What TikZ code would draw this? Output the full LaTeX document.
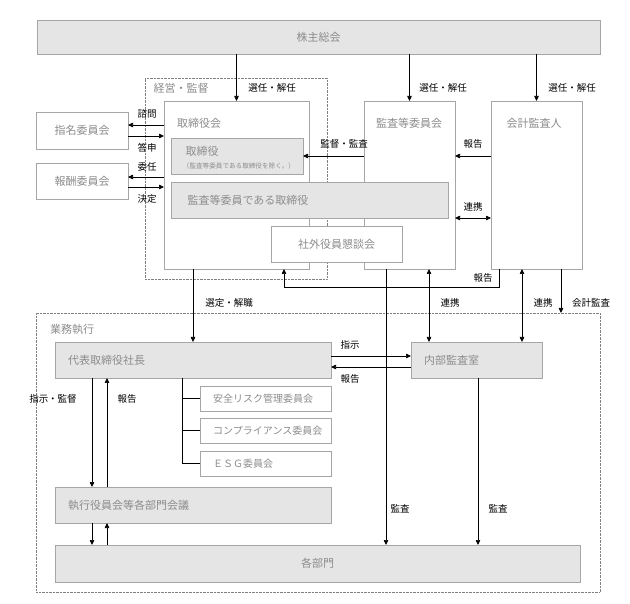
\documentclass[tikz,border=0pt]{standalone}
\usepackage{fontspec}
\setmainfont{Noto Sans CJK JP}
\usetikzlibrary{positioning, arrows.meta, calc}

\begin{document}
\begin{tikzpicture}[x=1pt, y=-1pt]
    % Define node styles
    \tikzstyle{graybox} = [draw=gray!70, fill=gray!20, anchor=north west, inner sep=0pt, outer sep=0pt, text=gray!90, font=\fontsize{11}{13}\selectfont]
    \tikzstyle{whitebox} = [draw=gray!70, fill=white, anchor=north west, inner sep=0pt, outer sep=0pt, text=gray!90, font=\fontsize{11}{13}\selectfont]
    \tikzstyle{dotbox} = [draw=gray, densely dotted, anchor=north west, inner sep=0pt, outer sep=0pt]
    \tikzstyle{boxtext} = [text=gray!90, font=\fontsize{11}{13}\selectfont, inner sep=0pt]
    \tikzstyle{lbl} = [font=\fontsize{9.5}{11}\selectfont, inner sep=0pt]
    \tikzstyle{arr} = [-{Triangle[length=5pt,width=4.5pt]}, line width=0.7pt]
    \tikzstyle{darr} = [{Triangle[length=5pt,width=4.5pt]}-{Triangle[length=5pt,width=4.5pt]}, line width=0.7pt]

    \useasboundingbox (0,0) rectangle (630,604);

    % Shareholders meeting
    \node[graybox, minimum width=563pt, minimum height=34pt] (soukai) at (37,20) {株主総会};

    % Management and supervision (dotted group)
    \node[dotbox, minimum width=182pt, minimum height=201pt] (keiei) at (145,78) {};
    \node[boxtext] (keieilbl) at (181,88) {経営・監督};

    % Board, audit committee, accounting auditor
    \node[whitebox, minimum width=145pt, minimum height=168pt] (torishimari) at (164,101) {};
    \node[boxtext, anchor=west] (torishimarilbl) at (177,123) {取締役会};
    \node[whitebox, minimum width=91pt, minimum height=168pt] (kansa) at (364,101) {};
    \node[boxtext] (kansalbl) at (409,123) {監査等委員会};
    \node[whitebox, minimum width=91pt, minimum height=168pt] (kaikei) at (491,101) {};
    \node[boxtext] (kaikeilbl) at (534,123) {会計監査人};

    % Directors inside the board
    \node[graybox, minimum width=132pt, minimum height=36pt] (torishimariyaku) at (171,138) {};
    \node[boxtext] (yakulbl) at (202,151) {取締役};
    \node[text=gray!90, font=\fontsize{6.6}{8}\selectfont, inner sep=0pt] (yakunote) at (239,166) {（監査等委員である取締役を除く。）};
    \node[graybox, minimum width=277pt, minimum height=36pt] (kansayaku) at (171,182) {};
    \node[boxtext] (kansayakulbl) at (248,200) {監査等委員である取締役};
    \node[whitebox, minimum width=131pt, minimum height=36pt] (shagai) at (271,226) {社外役員懇談会};

    % Committees on the left
    \node[whitebox, minimum width=92pt, minimum height=37pt] (shimei) at (36,112) {指名委員会};
    \node[whitebox, minimum width=92pt, minimum height=36pt] (houshu) at (36,163) {報酬委員会};

    % Business execution (dotted group)
    \node[dotbox, minimum width=564pt, minimum height=279pt] (gyomu) at (36,313) {};
    \node[boxtext] (gyomulbl) at (72,329) {業務執行};
    \node[graybox, minimum width=276pt, minimum height=36pt] (daihyo) at (55,342) {};
    \node[boxtext, anchor=west] (daihyolbl) at (68,360) {代表取締役社長};
    \node[graybox, minimum width=131pt, minimum height=36pt] (naibu) at (411,342) {};
    \node[boxtext, anchor=west] (naibulbl) at (424,360) {内部監査室};
    \node[whitebox, minimum width=131pt, minimum height=25pt] (anzen) at (200,386) {};
    \node[boxtext, anchor=west, font=\fontsize{10}{12}\selectfont] (anzenlbl) at (213,398.5) {安全リスク管理委員会};
    \node[whitebox, minimum width=131pt, minimum height=25pt] (comp) at (200,418) {};
    \node[boxtext, anchor=west, font=\fontsize{10}{12}\selectfont] (complbl) at (213,430.5) {コンプライアンス委員会};
    \node[whitebox, minimum width=131pt, minimum height=25pt] (esg) at (200,451) {};
    \node[boxtext, anchor=west, font=\fontsize{10}{12}\selectfont] (esglbl) at (213,463.5) {ＥＳＧ委員会};
    \node[graybox, minimum width=276pt, minimum height=36pt] (shikkou) at (55,487) {};
    \node[boxtext, anchor=west] (shikkoulbl) at (68,505) {執行役員会等各部門会議};
    \node[graybox, minimum width=525pt, minimum height=37pt] (kakubumon) at (55,545) {各部門};

    % Columns for vertical connectors
    \coordinate (colsentei) at (193,0);
    \coordinate (colback) at (284,287);
    \coordinate (colkansa) at (386,0);
    \coordinate (colrenkei) at (429,0);
    \coordinate (colnaibu) at (478,0);
    \coordinate (colhoukoku) at (499,0);
    \coordinate (colrenkeib) at (522,0);
    \coordinate (colkaikei) at (561,0);
    \coordinate (colshiji) at (92,0);
    \coordinate (colhou) at (107,0);
    \coordinate (coltree) at (182,0);

    % Appointment arrows
    \draw[arr] (soukai.south -| torishimari.north) -- (torishimari.north);
    \draw[arr] (soukai.south -| kansa.north) -- (kansa.north);
    \draw[arr] (soukai.south -| kaikei.north) -- (kaikei.north);
    \node[lbl] (sennin1) at (272,88) {選任・解任};
    \node[lbl] (sennin2) at (443,88) {選任・解任};
    \node[lbl] (sennin3) at (572,88) {選任・解任};

    % Board and committees
    \draw[arr] ([yshift=5.5pt]shimei.east -| torishimari.west) -- ([yshift=5.5pt]shimei.east);
    \draw[arr] ([yshift=-5.5pt]shimei.east) -- ([yshift=-5.5pt]shimei.east -| torishimari.west);
    \draw[arr] ([yshift=4pt]houshu.east -| torishimari.west) -- ([yshift=4pt]houshu.east);
    \draw[arr] ([yshift=-6pt]houshu.east) -- ([yshift=-6pt]houshu.east -| torishimari.west);
    \node[lbl] (shimon) at (147,114) {諮問};
    \node[lbl] (toushin) at (147,148) {答申};
    \node[lbl] (inin) at (147,167) {委任};
    \node[lbl] (kettei) at (147,199) {決定};

    % Audit committee and accounting auditor
    \draw[arr] (torishimariyaku.east -| kansa.west) -- (torishimariyaku.east);
    \draw[arr] (torishimariyaku.east -| kaikei.west) -- (torishimariyaku.east -| kansa.east);
    \draw[darr] (kansayaku.south -| kansa.east) -- (kansayaku.south -| kaikei.west);
    \node[lbl] (kantoku) at (344,144) {監督・監査};
    \node[lbl] (houkoku1) at (473,144) {報告};
    \node[lbl] (renkei1) at (473,207) {連携};

    % Report back to the board
    \draw[arr] (kaikei.south -| colhoukoku) |- (colback) -- (torishimari.south -| colback);
    \node[lbl] (houkoku2) at (483,278) {報告};

    % Down to business execution
    \draw[arr] (torishimari.south -| colsentei) -- (daihyo.north -| colsentei);
    \node[lbl] (sentei) at (229,303) {選定・解職};
    \draw[darr] (kansa.south -| colrenkei) -- (naibu.north -| colrenkei);
    \node[lbl] (renkei2) at (450,303) {連携};
    \draw[darr] (kaikei.south -| colrenkeib) -- (naibu.north -| colrenkeib);
    \node[lbl] (renkei3) at (543,303) {連携};
    \draw[arr] (kaikei.south -| colkaikei) -- (gyomu.north -| colkaikei);
    \node[lbl] (kaikeikansa) at (591,303) {会計監査};
    \draw[arr] (kansa.south -| colkansa) -- (kakubumon.north -| colkansa);
    \node[lbl] (kansa1) at (400,509) {監査};
    \draw[arr] (naibu.south -| colnaibu) -- (kakubumon.north -| colnaibu);
    \node[lbl] (kansa2) at (498,509) {監査};

    % President and internal audit
    \draw[arr] ([yshift=4pt]daihyo.east) -- ([yshift=4pt]naibu.west);
    \draw[arr] ([yshift=-7pt]naibu.west) -- ([yshift=-7pt]daihyo.east);
    \node[lbl] (shiji) at (350,345) {指示};
    \node[lbl] (houkoku3) at (350,379) {報告};

    % Committees under the president
    \draw[line width=0.7pt] (daihyo.south -| coltree) -- (esg.west -| coltree) -- (esg.west);
    \draw[line width=0.7pt] (anzen.west -| coltree) -- (anzen.west);
    \draw[line width=0.7pt] (comp.west -| coltree) -- (comp.west);

    % President, meetings and departments
    \draw[arr] (daihyo.south -| colshiji) -- (shikkou.north -| colshiji);
    \draw[arr] (shikkou.north -| colhou) -- (daihyo.south -| colhou);
    \node[lbl] (shijikantoku) at (53,399) {指示・監督};
    \node[lbl] (houkoku4) at (127,399) {報告};
    \draw[arr] (shikkou.south -| colshiji) -- (kakubumon.north -| colshiji);
    \draw[arr] (kakubumon.north -| colhou) -- (shikkou.south -| colhou);

\end{tikzpicture}
\end{document}
